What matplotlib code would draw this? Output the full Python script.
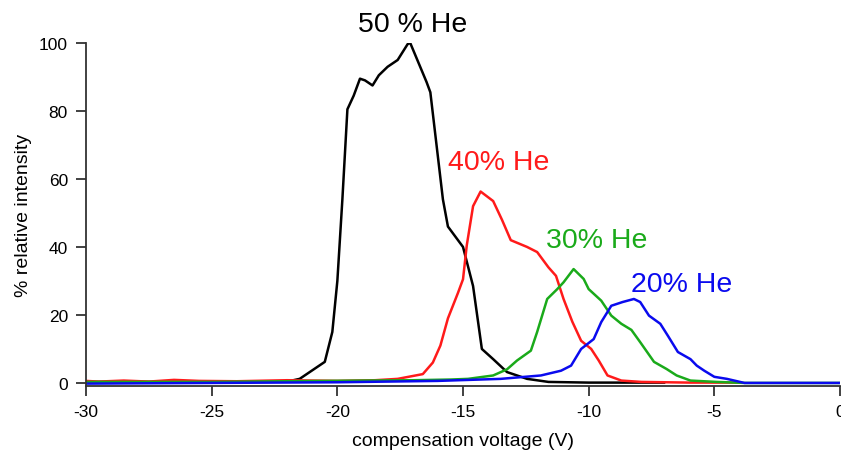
import matplotlib.pyplot as plt

# compensation voltage (V) and % relative intensity
cv_50 = [-30, -26, -22, -21.5, -21.1, -20.5, -20.2, -20.0, -19.8, -19.6, -19.35, -19.1, -18.9, -18.6,
         -18.35, -18.0, -17.6, -17.2, -17.1, -16.45, -16.3, -15.8, -15.6, -15.0, -14.6, -14.25,
         -13.8, -13.25, -12.45, -11.6, -10, -7]
int_50 = [0.3, 0.3, 0.4, 1.2, 3.2, 6.2, 15, 30, 54, 80.5, 84.5, 89.5, 89, 87.5,
          90.5, 93, 95, 99.7, 100, 88.5, 85.5, 54, 46, 40, 28.5, 10,
          7, 3.2, 1.2, 0.3, 0.1, 0.1]

cv_40 = [-30, -29.5, -28.5, -27.5, -26.5, -25.5, -24, -22, -20, -18.5, -17.6, -16.6, -16.2, -15.9,
         -15.6, -15.2, -15.0, -14.85, -14.6, -14.3, -13.8, -13.45, -13.1, -12.45, -12.05, -11.6,
         -11.3, -11.0, -10.65, -10.3, -9.9, -9.6, -9.25, -8.7, -7.9, -6, -4]
int_40 = [0.6, 0.4, 0.7, 0.4, 0.9, 0.6, 0.5, 0.8, 0.6, 0.8, 1.2, 2.6, 6, 11,
          19, 26.5, 30.5, 40.5, 52, 56.3, 53.5, 48, 42, 40, 38.5, 34,
          31.5, 24.7, 18, 12.4, 10, 6.6, 2.2, 0.7, 0.3, 0.1, 0.1]

cv_30 = [-30, -25, -22, -19, -17, -15.5, -14.8, -13.8, -13.25, -12.85, -12.3, -12.05, -11.65, -11.25,
         -11.0, -10.6, -10.2, -10.0, -9.5, -9.1, -8.7, -8.3, -7.95, -7.4, -6.9, -6.5,
         -5.95, -4.9, -3.8, 0]
int_30 = [0.3, 0.3, 0.5, 0.7, 0.8, 1.0, 1.2, 2.2, 4, 6.6, 9.5, 15, 24.7, 27.6,
          29.6, 33.5, 30.6, 27.6, 24.2, 19.8, 17.4, 15.6, 12, 6.2, 4.1, 2.2,
          0.7, 0.3, 0.0, 0.0]

cv_20 = [-30, -25, -20, -16, -13.5, -11.9, -11.1, -10.7, -10.3, -9.8, -9.5, -9.1, -8.65, -8.2,
         -7.95, -7.6, -7.15, -6.85, -6.45, -5.95, -5.7, -5.4, -5.0, -4.5, -3.8, 0]
int_20 = [-0.2, 0.0, 0.2, 0.6, 1.2, 2.2, 3.6, 5.1, 10, 12.9, 17.9, 22.7, 23.8, 24.7,
          23.8, 19.8, 17.4, 13.9, 9.1, 7, 5.1, 3.6, 1.8, 1.2, 0.0, 0.0]

series = [
    (cv_50, int_50, 'black', '50 % He', -17.0, 105.6),
    (cv_40, int_40, '#ff1a1a', '40% He', -13.6, 65.0),
    (cv_30, int_30, '#1aaa1a', '30% He', -9.7, 42.0),
    (cv_20, int_20, '#0a0aee', '20% He', -6.3, 29.0),
]

plt.rcParams['font.family'] = ['Liberation Sans', 'DejaVu Sans']

fig = plt.figure(figsize=(8.41, 4.52), dpi=100)
ax = fig.add_axes([0.1023, 0.1438, 0.8965, 0.7589])

for x, y, color, label, tx, ty in series:
    ax.plot(x, y, color=color, lw=1.8, solid_joinstyle='round')
    ax.text(tx, ty, label, color=color, fontsize=20.5, ha='center', va='center', clip_on=False)

ax.set_xlim(-30, 0)
ax.set_ylim(-0.9, 100)
ax.set_xticks([-30, -25, -20, -15, -10, -5, 0])
ax.set_xticklabels(['-30', '-25', '-20', '-15', '-10', '-5', '0'])
ax.set_yticks([0, 20, 40, 60, 80, 100])
ax.spines['top'].set_visible(False)
ax.spines['right'].set_visible(False)
for s in ('left', 'bottom'):
    ax.spines[s].set_linewidth(1.3)
    ax.spines[s].set_color('#333333')
ax.spines['left'].set_bounds(-0.9, 100)
ax.tick_params(direction='out', length=7, width=1.3, color='#333333', labelsize=12.5, pad=6)
ax.set_xlabel('compensation voltage (V)', fontsize=14, labelpad=9)
ax.set_ylabel('% relative intensity', fontsize=14, labelpad=5)

fig.savefig('out.png', dpi=100)
